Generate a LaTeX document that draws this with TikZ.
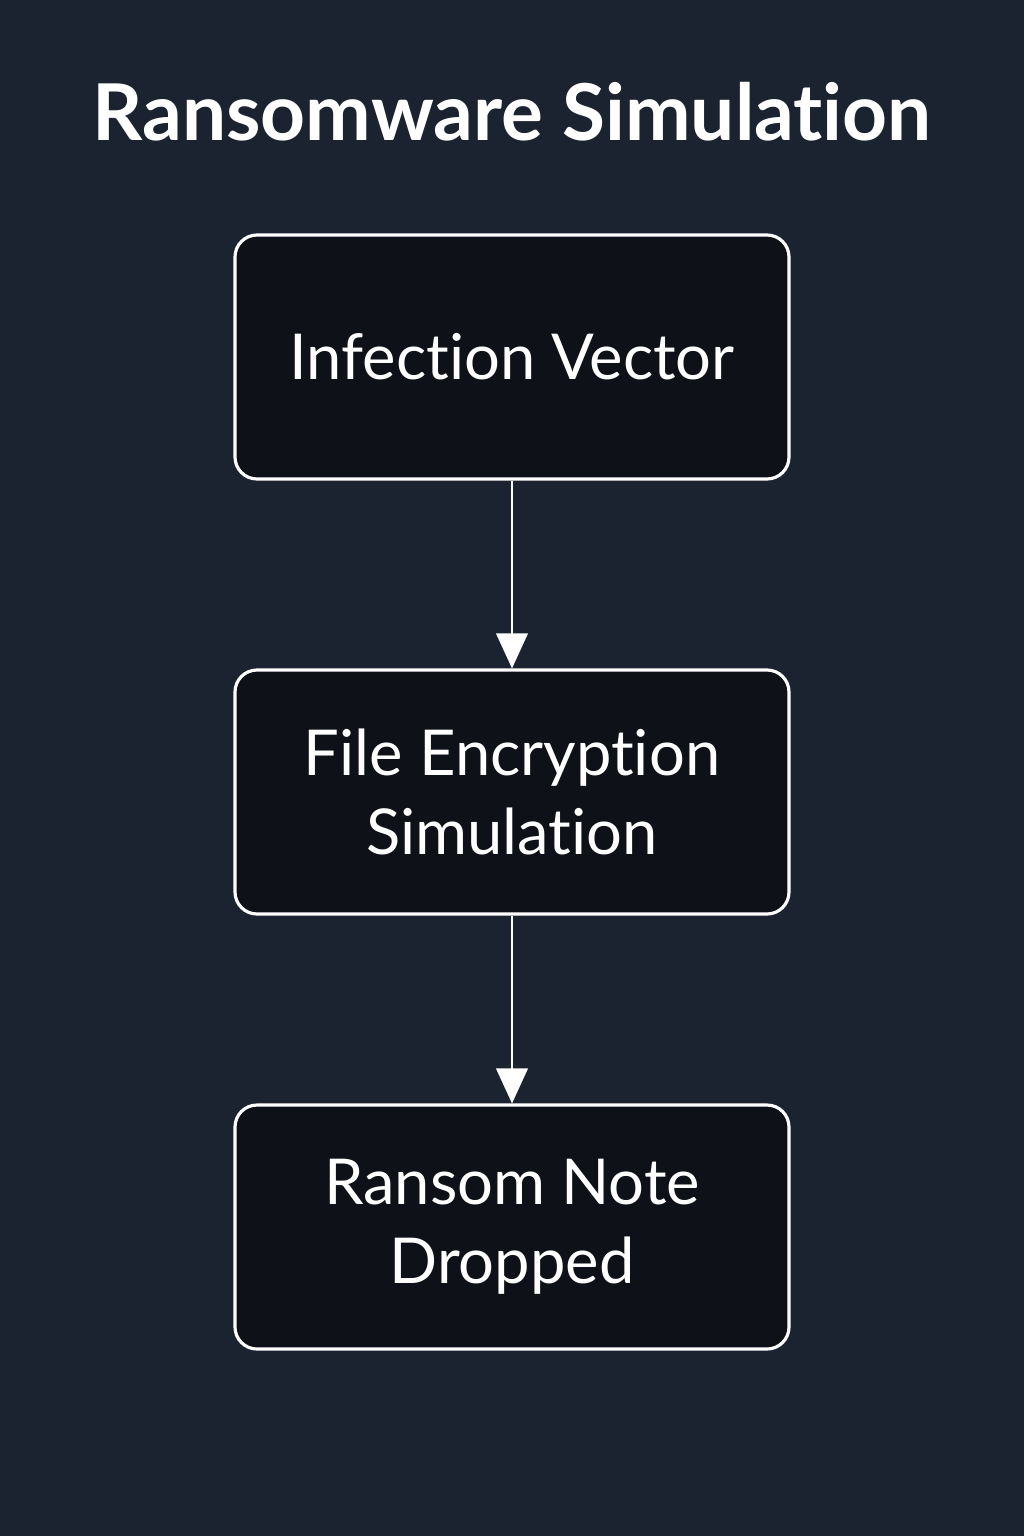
\documentclass[tikz,border=0pt]{standalone}
\usepackage{fontspec}
\setmainfont{Lato}[Ligatures={NoCommon,NoRare}]
\usetikzlibrary{arrows.meta,positioning}
\definecolor{bgnavy}{HTML}{1B2230}
\definecolor{boxfill}{HTML}{0E1117}
\begin{document}
\begin{tikzpicture}[-{Triangle[width=9pt,length=10pt]},shorten >=0pt,node distance=4.35cm,line width=0.7pt,white]
\tikzstyle{stage}=[draw=white,fill=boxfill,text=white,rounded corners=0.22cm,line width=0.9pt,minimum width=5.54cm,minimum height=2.44cm,align=center,font=\fontsize{18}{22.4}\selectfont]
\fill[bgnavy] (0,0) rectangle (10.24,-15.36);
\useasboundingbox (0,0) rectangle (10.24,-15.36);
\node[text=white,font=\fontsize{22.3}{26}\selectfont\bfseries] (title) at (5.12,-1.12) {Ransomware Simulation};
\node[stage] (A) at (5.12,-3.57) {Infection Vector};
\node[stage] (B) [below of=A] {File Encryption\\Simulation};
\node[stage] (C) [below of=B] {Ransom Note\\Dropped};
\path
(A) edge (B)
(B) edge (C);
\end{tikzpicture}
\end{document}
